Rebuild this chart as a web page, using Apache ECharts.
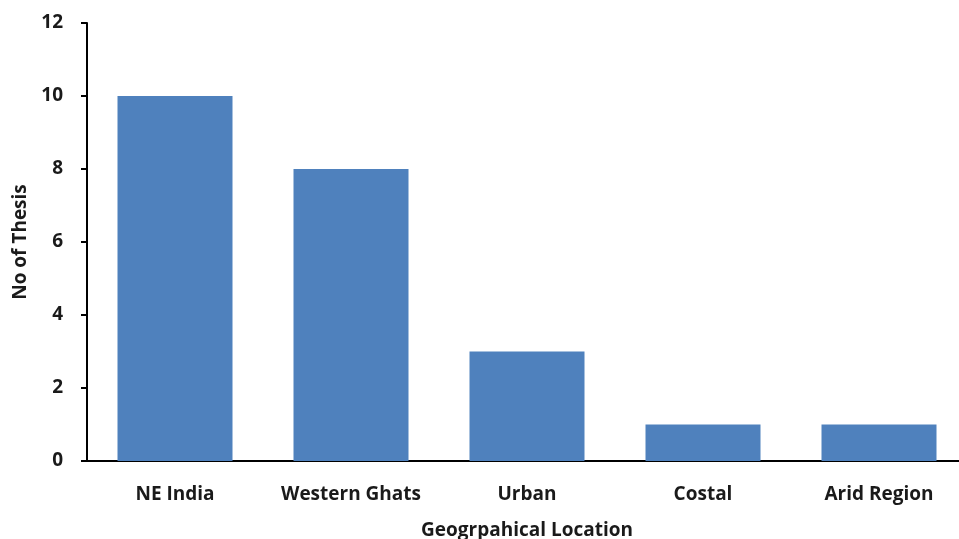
<!DOCTYPE html>
<html>
<head>
<meta charset="utf-8">
<script src="https://cdn.jsdelivr.net/npm/echarts@6/dist/echarts.min.js"></script>
<style>
html, body { margin: 0; padding: 0; background: #fff; }
#main { width: 959px; height: 539px; }
</style>
</head>
<body>
<div id="main"></div>
<script>
var categories = ['NE India', 'Western Ghats', 'Urban', 'Costal', 'Arid Region'];
var thesisCounts = [10, 8, 3, 1, 1];
var yTicks = { min: 0, max: 12, interval: 2 };

var mychart = echarts.init(document.getElementById('main'));
var font = 'Open Sans, sans-serif';
var option = {
    animation: false,
    grid: {
        left: 87,
        top: 23,
        width: 880,
        height: 438,
        outerBoundsMode: 'none',
        containLabel: false
    },
    xAxis: {
        type: 'category',
        data: categories,
        name: 'Geogrpahical Location',
        nameLocation: 'middle',
        nameGap: 60,
        nameTextStyle: { color: '#1a1a1a', fontSize: 19, fontWeight: 'bold', fontFamily: font },
        axisLine: { lineStyle: { color: '#000', width: 2 } },
        axisTick: { show: false },
        axisLabel: {
            color: '#1a1a1a', fontSize: 19, fontWeight: 'bold', fontFamily: font,
            margin: 24, interval: 0, hideOverlap: false
        }
    },
    yAxis: {
        type: 'value',
        min: yTicks.min,
        max: yTicks.max,
        interval: yTicks.interval,
        name: 'No of Thesis',
        nameLocation: 'middle',
        nameGap: 57,
        nameTextStyle: { color: '#1a1a1a', fontSize: 19, fontWeight: 'bold', fontFamily: font },
        axisLine: { show: true, lineStyle: { color: '#000', width: 2 } },
        axisTick: { show: true, length: 6, lineStyle: { color: '#000', width: 2 } },
        splitLine: { show: false },
        axisLabel: { color: '#1a1a1a', fontSize: 19, fontWeight: 'bold', fontFamily: font, margin: 24 }
    },
    series: [{
        type: 'bar',
        data: thesisCounts,
        barWidth: 115,
        itemStyle: { color: '#4F81BD' }
    }]
};
mychart.setOption(option);
</script>
</body>
</html>
